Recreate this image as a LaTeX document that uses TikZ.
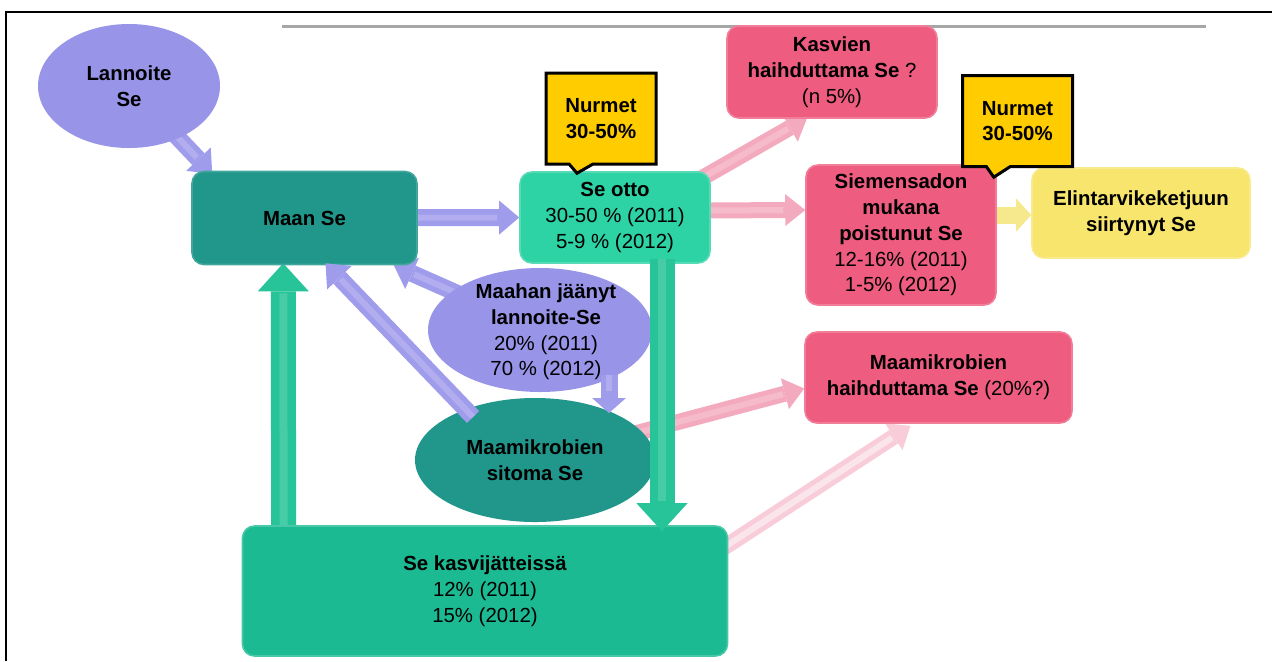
\documentclass[tikz,border=0pt]{standalone}
\usepackage{fontspec}
\setmainfont{Liberation Sans}
\usetikzlibrary{shapes.geometric,shapes.callouts,arrows.meta,calc}
\pgfdeclarelayer{back}
\pgfdeclarelayer{front}
\pgfsetlayers{back,main,front}
\definecolor{dteal}{RGB}{33,150,138}
\definecolor{gotto}{RGB}{45,210,165}
\definecolor{gkasvi}{RGB}{28,186,146}
\definecolor{garr}{RGB}{38,196,152}
\definecolor{pinkbox}{RGB}{238,92,128}
\definecolor{pinkarr}{RGB}{244,170,190}
\definecolor{pinklight}{RGB}{248,204,217}
\definecolor{lavell}{RGB}{152,148,232}
\definecolor{lavarr}{RGB}{160,156,236}
\definecolor{gold}{RGB}{255,204,0}
\definecolor{lyellow}{RGB}{247,229,110}
\definecolor{yarr}{RGB}{246,232,140}
\newcommand\dgfont{\fontsize{10.2}{12.9}\selectfont}
\begin{document}
\begin{tikzpicture}[x=0.5pt,y=-0.5pt,
  box/.style={rectangle, rounded corners=6pt, inner sep=0pt, align=center, font=\dgfont, line width=0.8pt},
  tealbox/.style={box, fill=dteal, draw=dteal!85!white},
  ottobox/.style={box, fill=gotto, draw=gotto!80!white},
  kasvibox/.style={box, fill=gkasvi, draw=gkasvi!80!white},
  pbox/.style={box, fill=pinkbox, draw=pinkbox!80!white},
  ybox/.style={box, fill=lyellow, draw=lyellow!80!white},
  nurbox/.style={rectangle callout, fill=gold, draw=black, line width=1.5pt, inner sep=0pt, align=center, font=\dgfont, callout pointer width=12pt, minimum width=55pt, minimum height=45.5pt},
  ell/.style={ellipse, inner sep=0pt},
  etext/.style={align=center, font=\dgfont, inner sep=0pt},
  lavar/.style={line width=8.5pt, draw=lavarr, -{Triangle[width=17pt,length=10pt,line width=0pt]},
    postaction={draw=white, draw opacity=0.18, line width=3pt, -, shorten >=11pt}},
  pinkar/.style={line width=8pt, draw=pinkarr, -{Triangle[width=16pt,length=10pt,line width=0pt]},
    postaction={draw=white, draw opacity=0.2, line width=3pt, -, shorten >=11pt}},
  lightar/.style={line width=8pt, draw=pinklight, -{Triangle[width=16pt,length=10pt,line width=0pt]},
    postaction={draw=white, draw opacity=0.5, line width=3pt, -, shorten >=11pt}},
  yar/.style={line width=8.5pt, draw=yarr, -{Triangle[width=16.5pt,length=7.5pt,line width=0pt]}},
  gar/.style={line width=12.5pt, draw=garr, -{Triangle[width=25.5pt,length=14pt,line width=0pt]},
    postaction={draw=white, draw opacity=0.15, line width=4pt, -, shorten >=15pt}}
]
\useasboundingbox (0,0) rectangle (1272,661);
% frame
\draw[line width=1pt] (6,661) -- (6,12) -- (1272,12);
\draw[line width=1.5pt, gray!70] (282,26) -- (1206,26);

% nodes
\node[ell, fill=lavell, minimum width=91pt, minimum height=62pt] (lannoite) at (129,86) {};
\node[etext] (lannoite-t) at (lannoite) {\textbf{Lannoite}\\\textbf{Se}};

\node[tealbox, minimum width=112.5pt, minimum height=46.5pt] (maanse) at (304.5,218) {\textbf{Maan Se}};
\node[ottobox, minimum width=95pt, minimum height=45.5pt] (seotto) at (615,217.5)
  {\textbf{Se otto}\\30-50 \% (2011)\\5-9 \% (2012)};
\node[pbox, minimum width=105pt, minimum height=46pt] (kasvien) at (832,72)
  {\textbf{Kasvien}\\\textbf{haihduttama Se} ?\\(n 5\%)};
\node[pbox, minimum width=95pt, minimum height=70pt] (siemens) at (901,235)
  {\textbf{Siemensadon}\\\textbf{mukana}\\\textbf{poistunut Se}\\12-16\% (2011)\\1-5\% (2012)};
\node[ybox, minimum width=109pt, minimum height=45pt] (elint) at (1141,213)
  {\textbf{Elintarvikeketjuun}\\\textbf{siirtynyt Se}};
\node[ell, fill=lavell, minimum width=112pt, minimum height=62pt] (maahan) at (540,330) {};
\node[etext] (maahan-t) at ($(maahan)+(6,2)$)
  {\textbf{Maahan jäänyt}\\\textbf{lannoite-Se}\\20\% (2011)\\70 \% (2012)};
\node[ell, fill=dteal, minimum width=120pt, minimum height=62pt] (sitoma) at (535,460) {};
\node[etext] (sitoma-t) at (sitoma) {\textbf{Maamikrobien}\\\textbf{sitoma Se}};
\node[pbox, minimum width=133.5pt, minimum height=45.5pt] (haihd) at (938.5,377.5)
  {\textbf{Maamikrobien}\\\textbf{haihduttama Se} (20\%?)};
\node[kasvibox, minimum width=242.5pt, minimum height=65pt] (kasvi) at (485,591)
  {\textbf{Se kasvijätteissä}\\12\% (2011)\\15\% (2012)};

\coordinate (p1) at ($(seotto.north)+(-38,2)$);
\coordinate (p2) at ($(siemens.north east)+(-3,13)$);
\node[nurbox, callout absolute pointer=(p1)] (nur1) at (601,118.5) {\textbf{Nurmet}\\\textbf{30-50\%}};
\node[nurbox, callout absolute pointer=(p2)] (nur2) at (1017.5,121) {\textbf{Nurmet}\\\textbf{30-50\%}};

% arrows behind nodes
\begin{pgfonlayer}{back}
\draw[lavar] (lannoite.center) -- ($(maanse.north west)+(21,3)$);
\draw[lavar] (maanse.center) -- (seotto.west);
\draw[pinkar] ($(seotto.north east)+(-30,19)$) -- ($(kasvien.south west)+(81,-1)$);
\draw[pinkar] ($(seotto.east)+(-20,-7)$) -- ($(siemens.west)+(0,-25)$);
\draw[yar] ($(siemens.east)+(-20,-20)$) -- ($(elint.west)+(0,2)$);
\draw[gar] ($(kasvi.north west)+(42,20)$) -- ($(maanse.south west)+(92,-2)$);
\draw[lavar] (maahan.center) -- ($(maanse.south east)+(-24,0)$);
\draw[pinkar] (sitoma.center) -- ($(haihd.west)+(0,11)$);
\draw[lightar] ($(kasvi.north east)+(-30,39)$) -- ($(haihd.south)+(-28,2)$);
\end{pgfonlayer}

% arrows over nodes
\begin{pgfonlayer}{front}
\draw[lavar] ($(sitoma.center)+(-62,-43)$) -- ($(maanse.south)+(21,-2)$);
\draw[lavar, -{Triangle[width=17pt,length=7.5pt,line width=0pt]}] ($(maahan.center)+(69,45)$) -- ($(sitoma.center)+(74,-47)$);
\draw[gar] ($(seotto.south)+(47,-5)$) -- ($(kasvi.north)+(177,6)$);
\end{pgfonlayer}
\end{tikzpicture}
\end{document}
